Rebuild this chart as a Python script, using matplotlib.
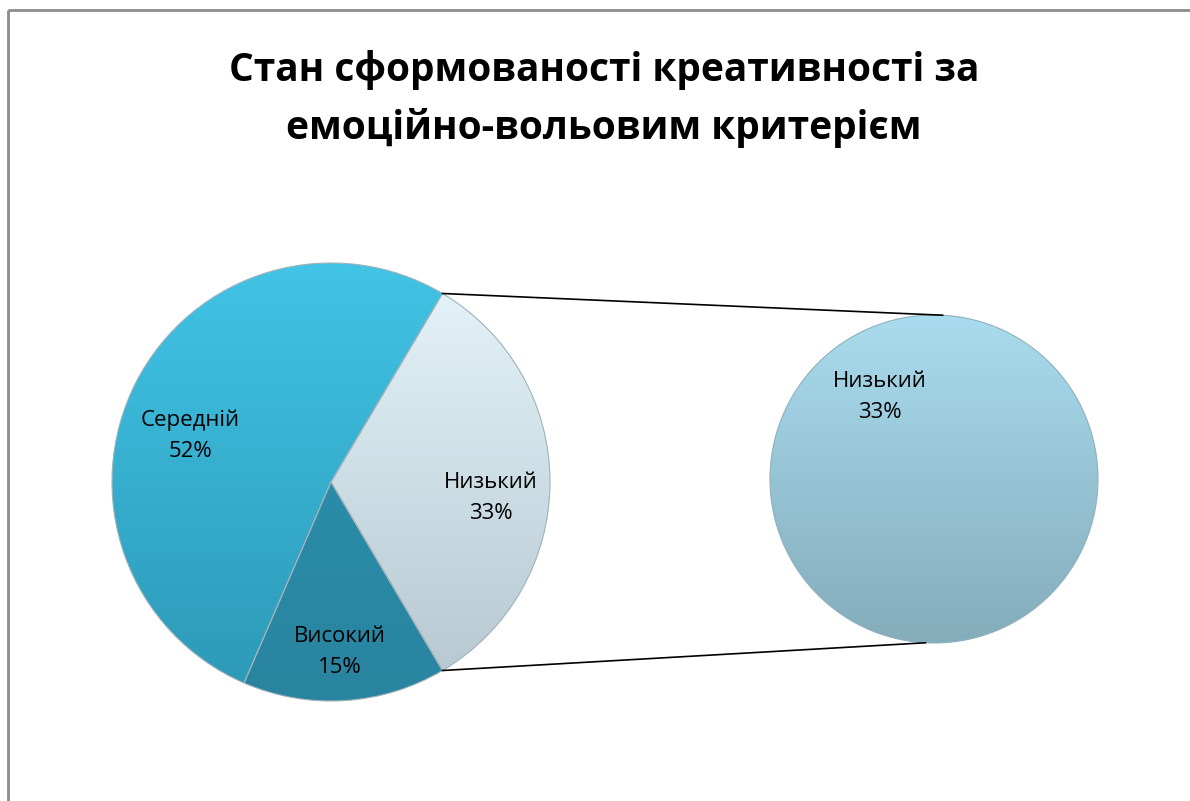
import numpy as np
import matplotlib
matplotlib.use("Agg")
import matplotlib.pyplot as plt
from matplotlib.colors import LinearSegmentedColormap
from matplotlib.patches import Rectangle

plt.rcParams['font.family'] = ['Open Sans', 'DejaVu Sans']

title = "Стан сформованості креативності за\nемоційно-вольовим критерієм"
categories = ['Низький', 'Середній', 'Високий']
values = [33, 52, 15]
second_categories = ['Низький']
second_values = [33]

W, H = 1190, 801
fig = plt.figure(figsize=(W / 100, H / 100), dpi=100)
ax = fig.add_axes([0, 0, 1, 1])

def py(y):
    return H - y

# frame
ax.add_patch(Rectangle((8, py(10)), W + 10, -(H + 10), fill=False,
                       edgecolor='#8c8c8c', linewidth=2, zorder=0))

c1 = (331, py(482)); r1 = 219
c2 = (934, py(479)); r2 = 164

grads = {
    'Низький': ('#e6f5fb', '#b5c6cf'),
    'Середній': ('#41c4e6', '#2c98b6'),
    'Високий': ('#2d95b0', '#2984a0'),
}
second_grad = ('#a9dcee', '#84acbb')

start = -values[0] / sum(values) * 360 / 2
wedges, _ = ax.pie(values, startangle=start, counterclock=True, center=c1,
                   radius=r1, frame=True,
                   wedgeprops=dict(edgecolor='#9fb2ba', linewidth=0.8))

def grad_fill(patch, center, r, cols):
    cmap = LinearSegmentedColormap.from_list('g', [cols[1], cols[0]])
    g = np.linspace(0, 1, 256).reshape(-1, 1)
    im = ax.imshow(g, cmap=cmap, origin='lower', aspect='auto',
                   extent=[center[0] - r, center[0] + r, center[1] - r, center[1] + r],
                   zorder=2, interpolation='bilinear')
    im.set_clip_path(patch)

for w, cat in zip(wedges, categories):
    w.set_facecolor('none')
    w.set_zorder(3)
    grad_fill(w, c1, r1, grads[cat])

wedges2, _ = ax.pie(second_values, startangle=90, center=c2, radius=r2, frame=True,
                    wedgeprops=dict(edgecolor='#8fb0be', linewidth=0.8))
for w in wedges2:
    w.set_facecolor('none')
    w.set_zorder(3)
    grad_fill(w, c2, r2, second_grad)

# connector lines
t1 = np.deg2rad(start + values[0] / sum(values) * 360)
t0 = np.deg2rad(start)
p_top = (c1[0] + r1 * np.cos(t1), c1[1] + r1 * np.sin(t1))
p_bot = (c1[0] + r1 * np.cos(t0), c1[1] + r1 * np.sin(t0))
q_top = (c2[0] + r2 * np.cos(np.deg2rad(87)), c2[1] + r2 * np.sin(np.deg2rad(87)))
q_bot = (c2[0] + r2 * np.cos(np.deg2rad(-93)), c2[1] + r2 * np.sin(np.deg2rad(-93)))
ax.plot([p_top[0], q_top[0]], [p_top[1], q_top[1]], color='black', lw=1.2, zorder=4)
ax.plot([p_bot[0], q_bot[0]], [p_bot[1], q_bot[1]], color='black', lw=1.2, zorder=4)

# labels (offsets from pie centres, in pixels)
label_offsets = {'Низький': (160, -16), 'Середній': (-141, 46), 'Високий': (9, -170)}
fs = 16
for cat, v in zip(categories, values):
    dx, dy = label_offsets[cat]
    ax.text(c1[0] + dx, c1[1] + dy, f"{cat}\n{v}%", ha='center', va='center',
            fontsize=fs, linespacing=1.6, color='black', zorder=5)
for cat, v in zip(second_categories, second_values):
    ax.text(c2[0] - 54, c2[1] + 82, f"{cat}\n{v}%", ha='center', va='center',
            fontsize=fs, linespacing=1.6, color='black', zorder=5)

ax.text(604, py(99), title, ha='center', va='center', fontsize=28,
        fontweight='bold', linespacing=1.55, zorder=5)

ax.set_xlim(0, W)
ax.set_ylim(0, H)
ax.set_aspect('auto')
ax.axis('off')
fig.savefig('out.png', dpi=100)
